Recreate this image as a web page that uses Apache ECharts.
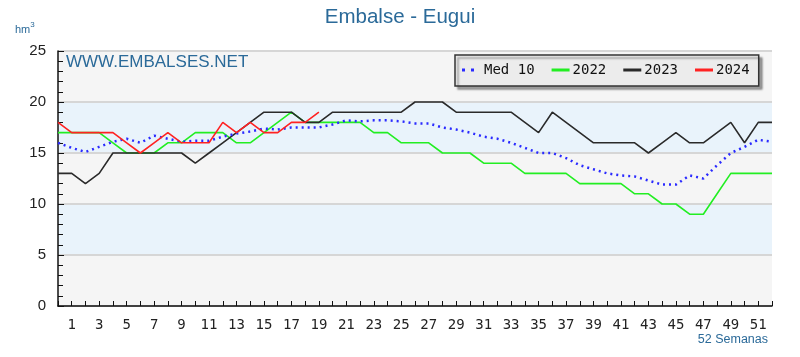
<!DOCTYPE html>
<html>
<head>
<meta charset="utf-8">
<script src="https://cdn.jsdelivr.net/npm/echarts@6/dist/echarts.min.js"></script>
<style>
html,body{margin:0;padding:0;background:#fff;}
#chart{width:800px;height:357px;}
</style>
</head>
<body>
<div id="chart"></div>
<script>
// Weeks (x categories)
var weeks = ['0','1','2','3','4','5','6','7','8','9','10','11','12','13','14','15','16','17','18','19','20','21','22','23','24','25','26','27','28','29','30','31','32','33','34','35','36','37','38','39','40','41','42','43','44','45','46','47','48','49','50','51','52'];

// Series values (hm3)
var med10 = [16.0,15.5,15.1,15.6,16.1,16.4,16.0,16.7,16.4,16.1,16.2,16.2,16.6,16.9,17.1,17.4,17.3,17.5,17.5,17.5,17.8,18.2,18.1,18.2,18.2,18.1,17.9,17.9,17.5,17.3,17.0,16.6,16.4,16.0,15.5,15.0,15.0,14.5,13.8,13.4,13.0,12.8,12.7,12.3,11.9,11.9,12.8,12.5,13.8,15.0,15.6,16.3,16.1];
var y2022 = [17,17,17,17,16,15,15,15,16,16,17,17,17,16,16,17,18,19,18,18,18,18,18,17,17,16,16,16,15,15,15,14,14,14,13,13,13,13,12,12,12,12,11,11,10,10,9,9,11,13,13,13,13];
var y2023 = [13,13,12,13,15,15,15,15,15,15,14,15,16,17,18,19,19,19,18,18,19,19,19,19,19,19,20,20,20,19,19,19,19,19,18,17,19,18,17,16,16,16,16,15,16,17,16,16,17,18,16,18,18];
var y2024 = [18,17,17,17,17,16,15,16,17,16,16,16,18,17,18,17,17,18,18,19];

var seriesNames = ['Med 10','2022','2023','2024'];
var yTicks = [0,5,10,15,20,25];

var blue = '#2b6a99';
var chart = echarts.init(document.getElementById('chart'), null, {renderer:'canvas'});

function mk(name, data, color, type, width, z){
  return {
    name: name, type: 'line', data: data, symbol: 'none', showSymbol: false,
    lineStyle: {color: color, width: width, type: type},
    itemStyle: {color: color},
    z: z, animation: false
  };
}

var lineIcon = 'path://M0,0L18,0L18,3L0,3Z';
var dotIcon = 'path://M0,0L3,0L3,3L0,3Z M9,0L12,0L12,3L9,3Z';
var legFont = {fontFamily: 'DejaVu Sans Mono, monospace', fontSize: 14, color: '#111'};

chart.setOption({
  animation: false,
  backgroundColor: '#ffffff',
  title: {
    text: 'Embalse - Eugui', left: 'center', top: 2,
    textStyle: {color: blue, fontSize: 20.5, fontWeight: 'normal', fontFamily: 'Liberation Sans, Arial, sans-serif'}
  },
  grid: {left: 58, right: 28, top: 51, bottom: 51, containLabel: false},
  legend: {
    data: [
      {name: seriesNames[0], icon: dotIcon, itemStyle: {color: '#2a2aff'}, textStyle: Object.assign({padding: [0,0,0,2]}, legFont)},
      {name: seriesNames[1], icon: lineIcon, textStyle: Object.assign({padding: [0,0,0,-2]}, legFont)},
      {name: seriesNames[2], icon: lineIcon, textStyle: Object.assign({padding: [0,0,0,-2]}, legFont)},
      {name: seriesNames[3], icon: lineIcon, textStyle: Object.assign({padding: [0,0,0,-2]}, legFont)}
    ],
    left: 455, top: 55,
    backgroundColor: '#ececec',
    borderColor: '#333',
    borderWidth: 1.5,
    shadowColor: 'rgba(0,0,0,0.35)', shadowBlur: 2, shadowOffsetX: 3, shadowOffsetY: 3,
    padding: [8, 9, 9, 7],
    itemWidth: 18, itemHeight: 3, itemGap: 17,
    textStyle: legFont
  },
  xAxis: {
    type: 'category', data: weeks, boundaryGap: false,
    axisLine: {lineStyle: {color: '#111', width: 1.5}},
    axisTick: {inside: true, length: 5, interval: 0, lineStyle: {color: '#111'}},
    axisLabel: {
      interval: 0, margin: 12, color: '#222', fontSize: 14, fontFamily: 'DejaVu Sans Mono, monospace',
      formatter: function(v){ var n = parseInt(v,10); return (n % 2 === 1) ? v : ''; }
    },
    splitLine: {show: false}
  },
  yAxis: {
    type: 'value', min: yTicks[0], max: yTicks[yTicks.length-1], interval: 5,
    axisLine: {show: true, lineStyle: {color: '#111', width: 1.5}},
    axisTick: {show: true, inside: true, length: 6, lineStyle: {color: '#111'}},
    minorTick: {show: true, splitNumber: 5, length: 5, lineStyle: {color: '#111'}},
    axisLabel: {margin: 12, color: '#222', fontSize: 15, fontFamily: 'Liberation Sans, Arial, sans-serif'},
    splitLine: {show: true, lineStyle: {color: '#d6d6d6', width: 2}},
    splitArea: {show: true, areaStyle: {color: ['#f5f5f5', '#e9f3fb']}}
  },
  graphic: [
    {type: 'text', left: 15, top: 21, style: {
      text: '{a|hm}{b|3}', rich: {
        a: {fontSize: 11, fill: blue, fontFamily: 'Liberation Sans, Arial, sans-serif', verticalAlign: 'bottom'},
        b: {fontSize: 8, fill: blue, fontFamily: 'Liberation Sans, Arial, sans-serif', verticalAlign: 'top', padding: [0,0,6,0]}
      }}},
    {type: 'text', left: 66, top: 54, z: 10, style: {
      text: 'WWW.EMBALSES.NET', fontSize: 17, fill: blue, fontFamily: 'Liberation Sans, Arial, sans-serif'}},
    {type: 'text', right: 32, top: 333, style: {
      text: '52 Semanas', fontSize: 12.5, fill: blue, fontFamily: 'Liberation Sans, Arial, sans-serif'}}
  ],
  series: [
    mk(seriesNames[0], med10, '#2a2aff', [2, 4], 2.5, 5),
    mk(seriesNames[1], y2022, '#22ee22', 'solid', 1.6, 3),
    mk(seriesNames[2], y2023, '#2a2a2a', 'solid', 1.6, 4),
    mk(seriesNames[3], y2024, '#ff2222', 'solid', 1.6, 6)
  ]
});
</script>
</body>
</html>
